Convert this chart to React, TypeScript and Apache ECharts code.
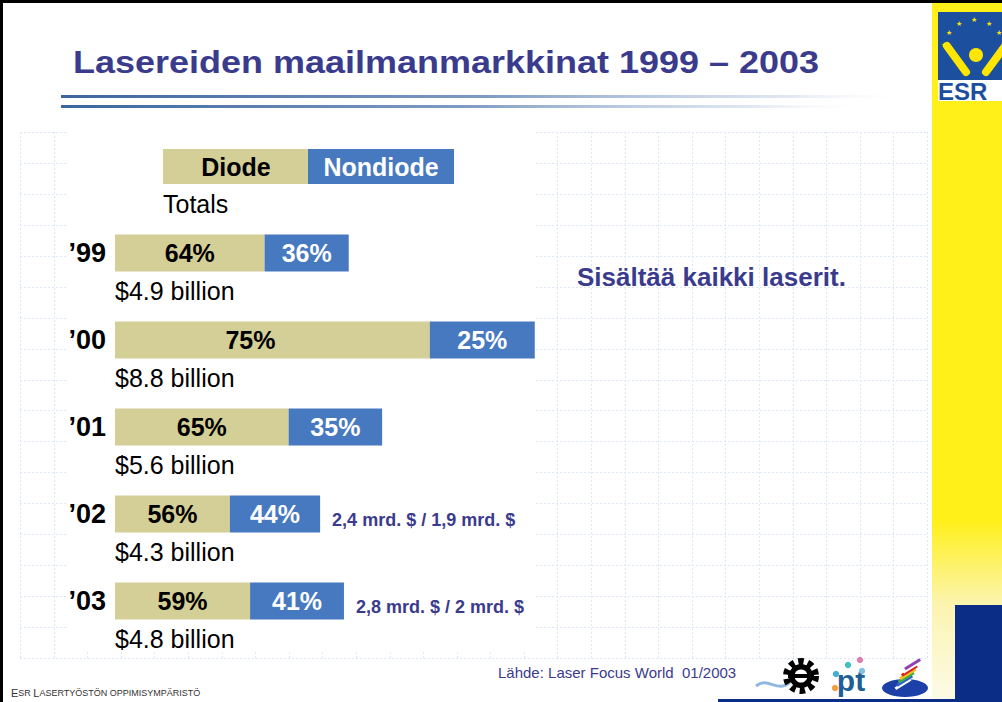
import React, { useEffect, useRef } from "react";
import * as echarts from "echarts";

const years = ["’99", "’00", "’01", "’02", "’03"];
const totals = [4.9, 8.8, 5.6, 4.3, 4.8];
const diodePct = [64, 75, 65, 56, 59];
const nondiodePct = [36, 25, 35, 44, 41];
const totalLabels = ["$4.9 billion", "$8.8 billion", "$5.6 billion", "$4.3 billion", "$4.8 billion"];
const notes = ["", "", "", "2,4 mrd. $ / 1,9 mrd. $", "2,8 mrd. $ / 2 mrd. $"];
const legendNames = ["Diode", "Nondiode"];
const titleText = "Lasereiden maailmanmarkkinat 1999 – 2003";
const totalsText = "Totals";
const remarkText = "Sisältää kaikki laserit.";
const sourceText = "Lähde: Laser Focus World  01/2003";
const footerCaps = ["E", "SR ", "L", "ASERTYÖSTÖN OPPIMISYMPÄRISTÖ"];

const FONT = "'Liberation Sans', Arial, Helvetica, sans-serif";
const TAN = "#d4ce97";
const BLUE = "#4679c0";
const INK = "#3b3b8e";
const NAVY = "#0c2d85";

function buildGraphics(): any[] {
  const g: any[] = [];
  // faint background grid
  const gx0 = 20, gx1 = 927, gy0 = 132, gy1 = 658;
  const nV = 28, nH = 18;
  for (let i = 0; i < nV; i++) {
    const x = Math.round(gx0 + ((gx1 - gx0) * i) / (nV - 1)) + 0.5;
    g.push({ type: "line", z: 0, silent: true, shape: { x1: x, y1: gy0, x2: x, y2: gy1 }, style: { stroke: "#dde7f6", lineWidth: 1, lineDash: [2, 2] } });
  }
  for (let j = 0; j < nH; j++) {
    const y = Math.round(gy0 + ((gy1 - gy0) * j) / (nH - 1)) + 0.5;
    g.push({ type: "line", z: 0, silent: true, shape: { x1: gx0, y1: y, x2: gx1, y2: y }, style: { stroke: "#dde7f6", lineWidth: 1, lineDash: [2, 2] } });
  }
  // white picture area
  g.push({ type: "rect", z: 1, silent: true, shape: { x: 68, y: 131, width: 468, height: 519 }, style: { fill: "#ffffff" } });

  // title
  g.push({ type: "text", z: 5, x: 73, y: 62, scaleY: 0.88, style: { text: titleText, fontFamily: FONT, fontSize: 36, fontWeight: "bold", fill: INK, textAlign: "left", textVerticalAlign: "middle" } });
  // title rule lines
  const lineGrad = (end: number) => ({
    type: "linear", x: 0, y: 0, x2: 1, y2: 0,
    colorStops: [
      { offset: 0, color: "#3d659c" },
      { offset: 0.5, color: "#7e9bc3" },
      { offset: end, color: "rgba(210,220,236,0.7)" },
      { offset: 1, color: "rgba(255,255,255,0)" },
    ],
  });
  g.push({ type: "rect", z: 5, silent: true, shape: { x: 61, y: 95, width: 852, height: 3 }, style: { fill: lineGrad(0.85) } });
  g.push({ type: "rect", z: 5, silent: true, shape: { x: 61, y: 105, width: 810, height: 3 }, style: { fill: lineGrad(0.85) } });

  // legend
  g.push({ type: "rect", z: 5, shape: { x: 163, y: 149, width: 145, height: 35 }, style: { fill: TAN } });
  g.push({ type: "rect", z: 5, shape: { x: 308, y: 149, width: 146, height: 35 }, style: { fill: BLUE } });
  g.push({ type: "text", z: 6, x: 236, y: 167, style: { text: legendNames[0], fontFamily: FONT, fontSize: 25, fontWeight: "bold", fill: "#000", textAlign: "center", textVerticalAlign: "middle" } });
  g.push({ type: "text", z: 6, x: 381, y: 167, style: { text: legendNames[1], fontFamily: FONT, fontSize: 25, fontWeight: "bold", fill: "#fff", textAlign: "center", textVerticalAlign: "middle" } });
  g.push({ type: "text", z: 6, x: 163, y: 204, style: { text: totalsText, fontFamily: FONT, fontSize: 25, fill: "#000", textAlign: "left", textVerticalAlign: "middle" } });

  // remark
  g.push({ type: "text", z: 6, x: 577, y: 277, style: { text: remarkText, fontFamily: FONT, fontSize: 26, fontWeight: "bold", fill: INK, textAlign: "left", textVerticalAlign: "middle" } });
  // source
  g.push({ type: "text", z: 6, x: 498, y: 672, style: { text: sourceText, fontFamily: FONT, fontSize: 15, fill: INK, textAlign: "left", textVerticalAlign: "middle" } });
  // footer
  g.push({
    type: "text", z: 6, x: 11, y: 693,
    style: {
      text: `{a|${footerCaps[0]}}{b|${footerCaps[1]}}{a|${footerCaps[2]}}{b|${footerCaps[3]}}`,
      rich: {
        a: { fontFamily: FONT, fontSize: 11, fill: "#333" },
        b: { fontFamily: FONT, fontSize: 9, fill: "#333" },
      },
      textAlign: "left", textVerticalAlign: "middle",
    },
  });

  // right yellow panel
  g.push({
    type: "rect", z: 3, silent: true, shape: { x: 932, y: 3, width: 70, height: 699 },
    style: {
      fill: {
        type: "linear", x: 0, y: 0, x2: 0, y2: 1,
        colorStops: [
          { offset: 0, color: "#fff01a" },
          { offset: 0.74, color: "#fff01a" },
          { offset: 0.86, color: "#fcf4b0" },
          { offset: 1, color: "#fcfbe8" },
        ],
      },
    },
  });
  g.push({ type: "rect", z: 4, silent: true, shape: { x: 955, y: 605, width: 47, height: 97 }, style: { fill: NAVY } });
  g.push({ type: "rect", z: 4, silent: true, shape: { x: 718, y: 699, width: 284, height: 3 }, style: { fill: NAVY } });
  // frame
  g.push({ type: "rect", z: 9, silent: true, shape: { x: 0, y: 0, width: 1002, height: 3 }, style: { fill: "#000" } });
  g.push({ type: "rect", z: 9, silent: true, shape: { x: 0, y: 0, width: 3, height: 702 }, style: { fill: "#000" } });

  // ESR logo
  g.push({ type: "rect", z: 5, silent: true, shape: { x: 938, y: 12, width: 64, height: 68 }, style: { fill: "#1d4f9f" } });
  g.push({ type: "rect", z: 5, silent: true, shape: { x: 938, y: 80, width: 64, height: 21 }, style: { fill: "#ffffff" } });
  const starPos = [[944, 44], [949, 32], [959, 23], [974, 19], [989, 23], [999, 32]];
  starPos.forEach(([sx, sy]) => {
    g.push({ type: "text", z: 6, silent: true, x: sx, y: sy, style: { text: "★", fontSize: 7, fill: "#ffe600", textAlign: "center", textVerticalAlign: "middle" } });
  });
  g.push({ type: "circle", z: 6, silent: true, shape: { cx: 976, cy: 55, r: 7 }, style: { fill: "#ffe600" } });
  g.push({ type: "line", z: 6, silent: true, shape: { x1: 947, y1: 46, x2: 966, y2: 72 }, style: { stroke: "#ffe600", lineWidth: 8, lineCap: "round" } });
  g.push({ type: "line", z: 6, silent: true, shape: { x1: 1005, y1: 46, x2: 986, y2: 72 }, style: { stroke: "#ffe600", lineWidth: 8, lineCap: "round" } });
  g.push({ type: "text", z: 6, silent: true, x: 938, y: 91, style: { text: "ESR", fontFamily: FONT, fontSize: 24, fontWeight: "bold", fill: "#1d4f9f", textAlign: "left", textVerticalAlign: "middle" } });

  // bottom logos
  g.push({ type: "bezierCurve", z: 5, silent: true, shape: { x1: 756, y1: 686, x2: 790, y2: 682, cpx1: 768, cpy1: 676, cpx2: 778, cpy2: 694 }, style: { stroke: "#8fb8e0", lineWidth: 3, fill: "none" } });
  g.push({ type: "circle", z: 5, silent: true, shape: { cx: 801, cy: 676, r: 14 }, style: { fill: "none", stroke: "#000", lineWidth: 8, lineDash: [5, 4] } });
  g.push({ type: "circle", z: 5, silent: true, shape: { cx: 801, cy: 676, r: 12 }, style: { fill: "#000" } });
  g.push({ type: "circle", z: 5, silent: true, shape: { cx: 801, cy: 676, r: 6.5 }, style: { fill: "#fff" } });
  g.push({ type: "rect", z: 5, silent: true, shape: { x: 788, y: 674, width: 26, height: 4 }, style: { fill: "#000" } });
  g.push({ type: "text", z: 5, silent: true, x: 851, y: 680, style: { text: "pt", fontFamily: FONT, fontSize: 30, fontWeight: "bold", fill: "#1f5f95", textAlign: "center", textVerticalAlign: "middle" } });
  [[835, 688, "#f0a040"], [836, 674, "#40b0d0"], [848, 665, "#40c0c0"], [860, 660, "#e080b0"], [862, 671, "#80c0e0"]].forEach(([cx, cy, c]: any) => {
    g.push({ type: "circle", z: 6, silent: true, shape: { cx, cy, r: 3.2 }, style: { fill: c } });
  });
  g.push({ type: "ellipse", z: 5, silent: true, shape: { cx: 905, cy: 688, rx: 23, ry: 9 }, style: { fill: "#1c3fa8" } });
  const stripeCols = ["#ffffff", "#3060d0", "#40b040", "#f0c020", "#e02020", "#ffffff", "#9040b0"];
  stripeCols.forEach((c, i) => {
    g.push({ type: "rect", z: 6, silent: true, x: 903 + i * 1.6, y: 684 - i * 3.3, rotation: 0.55, shape: { x: -9, y: -1.5, width: 18, height: 3 }, style: { fill: c } });
  });
  return g;
}

export default function App() {
  const ref = useRef<HTMLDivElement>(null);
  useEffect(() => {
    if (!ref.current) return;
    const chart = echarts.init(ref.current, undefined, { renderer: "svg" });
    const diodeVals = totals.map((t, i) => +(t * diodePct[i] / 100).toFixed(3));
    const nondiodeVals = totals.map((t, i) => +(t * nondiodePct[i] / 100).toFixed(3));
    const pctLabel = { show: true, position: "inside", fontFamily: FONT, fontSize: 25, fontWeight: "bold" };
    chart.setOption({
      animation: false,
      backgroundColor: "#ffffff",
      grid: { left: 115, right: 410, top: 209.5, height: 435, containLabel: false },
      xAxis: { type: "value", min: 0, max: 10, show: false },
      yAxis: {
        type: "category", data: years, inverse: true, z: 6,
        axisLine: { show: false }, axisTick: { show: false }, splitLine: { show: false },
        axisLabel: { color: "#000", fontFamily: FONT, fontSize: 27, fontWeight: "bold", margin: 9, interval: 0 },
      },
      graphic: buildGraphics(),
      series: [
        {
          name: legendNames[0], type: "bar", stack: "total", barWidth: 37, barGap: "-100%", silent: true, z: 3,
          itemStyle: { color: TAN },
          data: diodeVals.map((v, i) => (i === 1 ? { value: v, label: { offset: [-22, 0] } } : v)),
          label: { ...pctLabel, color: "#000", formatter: (p: any) => diodePct[p.dataIndex] + "%" },
        },
        {
          name: legendNames[1], type: "bar", stack: "total", barWidth: 37, barGap: "-100%", silent: true, z: 3,
          itemStyle: { color: BLUE },
          data: nondiodeVals,
          label: { ...pctLabel, color: "#fff", formatter: (p: any) => nondiodePct[p.dataIndex] + "%" },
        },
        {
          name: "Totals", type: "bar", barWidth: 37, barGap: "-100%", silent: true, z: 2,
          itemStyle: { color: "rgba(0,0,0,0)" },
          data: totals,
          label: {
            show: true, position: [0, 56], align: "left", verticalAlign: "middle",
            color: "#000", fontFamily: FONT, fontSize: 25,
            formatter: (p: any) => totalLabels[p.dataIndex],
          },
        },
        {
          name: "Notes", type: "bar", barWidth: 37, barGap: "-100%", silent: true, z: 2,
          itemStyle: { color: "rgba(0,0,0,0)" },
          data: totals,
          label: {
            show: true, position: "right", distance: 12, offset: [0, 6],
            color: INK, fontFamily: FONT, fontSize: 18, fontWeight: "bold",
            formatter: (p: any) => notes[p.dataIndex],
          },
        },
      ],
    });
    return () => chart.dispose();
  }, []);
  return <div ref={ref} style={{ position: "absolute", left: 0, top: 0, width: 1002, height: 702 }} />;
}
